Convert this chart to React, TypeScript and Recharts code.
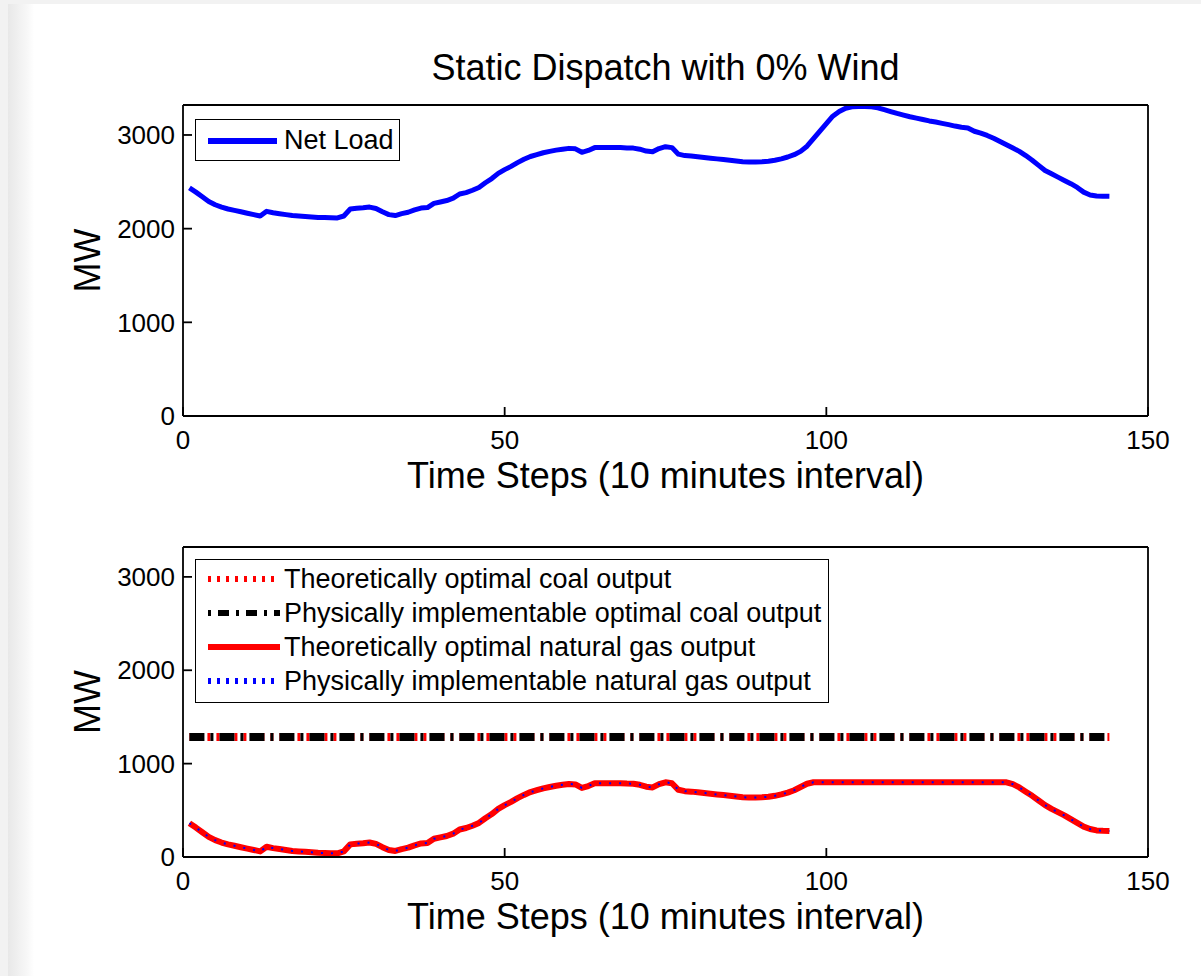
import React from 'react';
import { LineChart, Line, XAxis, YAxis } from 'recharts';

const FONT = '"Liberation Sans", Arial, Helvetica, sans-serif';

const timeSteps = Array.from({ length: 144 }, (_, i) => i + 1);

// net load, MW, one value per 10-minute step
const netLoad = [
  2436, 2390, 2340, 2290, 2255, 2230, 2210, 2195, 2180, 2165,
  2150, 2135, 2185, 2170, 2160, 2150, 2140, 2135, 2130, 2125,
  2120, 2118, 2116, 2115, 2135, 2210, 2218, 2222, 2230, 2215,
  2180, 2150, 2140, 2160, 2175, 2200, 2220, 2225, 2270, 2285,
  2300, 2325, 2370, 2385, 2410, 2440, 2490, 2535, 2590, 2630,
  2665, 2705, 2740, 2770, 2790, 2810, 2825, 2838, 2848, 2857,
  2852, 2815, 2835, 2865, 2865, 2866, 2866, 2866, 2862, 2860,
  2848, 2828, 2820, 2855, 2875, 2865, 2795, 2780, 2775, 2768,
  2760, 2752, 2745, 2738, 2730, 2722, 2715, 2712, 2712, 2715,
  2720, 2730, 2745, 2765, 2790, 2825, 2880, 2960, 3040, 3120,
  3200, 3250, 3285, 3300, 3305, 3305, 3300, 3290, 3270, 3250,
  3230, 3212, 3195, 3180, 3165, 3150, 3138, 3124, 3110, 3095,
  3082, 3075, 3040, 3020, 2995, 2965, 2930, 2895, 2860, 2825,
  2780, 2730, 2675, 2620, 2585, 2550, 2515, 2480, 2440, 2390,
  2360, 2348, 2346, 2345,
];

// natural gas output, MW (theoretical and implementable overlap)
const gasOutput = [
  361, 315, 265, 215, 180, 155, 135, 120, 105, 90,
  75, 60, 110, 95, 85, 75, 65, 60, 55, 50,
  45, 43, 41, 40, 60, 135, 143, 147, 155, 140,
  105, 75, 65, 85, 100, 125, 145, 150, 195, 210,
  225, 250, 295, 310, 335, 365, 415, 460, 515, 555,
  590, 630, 665, 695, 715, 735, 750, 763, 773, 782,
  777, 740, 760, 790, 790, 791, 791, 791, 787, 785,
  773, 753, 745, 780, 800, 790, 720, 705, 700, 693,
  685, 677, 670, 663, 655, 647, 640, 637, 637, 640,
  645, 655, 670, 690, 715, 750, 785, 800, 800, 800,
  800, 800, 800, 800, 800, 800, 800, 800, 800, 800,
  800, 800, 800, 800, 800, 800, 800, 800, 800, 800,
  800, 800, 800, 800, 800, 800, 800, 800, 780, 745,
  700, 655, 605, 555, 515, 480, 445, 405, 365, 325,
  300, 285, 280, 278,
];

const COAL_LEVEL = 1285;
const coalTheoretical = timeSteps.map(() => COAL_LEVEL);
const coalPhysical = timeSteps.map(() => COAL_LEVEL);

const xTicks = [0, 50, 100, 150];
const yTicks = [0, 1000, 2000, 3000];
const Y_MAX = 3320;

const topData = timeSteps.map((t, i) => ({ t, load: netLoad[i] }));
const bottomData = timeSteps.map((t, i) => ({
  t,
  coalT: coalTheoretical[i],
  coalP: coalPhysical[i],
  gasT: gasOutput[i],
  gasP: gasOutput[i],
}));

const lineStyle = { stroke: '#000', strokeWidth: 1.8 };
const tickFont = { fill: '#000', fontSize: 26, fontFamily: FONT };

const MwLabel = (props: any) => {
  const vb = props.viewBox || { x: 0, y: 0, height: 0 };
  const cx = 87;
  const cy = vb.y + vb.height / 2;
  return (
    <text
      x={cx}
      y={cy}
      transform={`rotate(-90 ${cx} ${cy})`}
      textAnchor="middle"
      dominantBaseline="central"
      fontSize={36}
      fontFamily={FONT}
      fill="#000"
    >
      MW
    </text>
  );
};

function axes(title?: string) {
  return [
    <XAxis
      key="xb"
      dataKey="t"
      type="number"
      domain={[0, 150]}
      ticks={xTicks}
      allowDataOverflow
      height={40}
      tickSize={-9}
      tickMargin={24}
      axisLine={lineStyle}
      tickLine={lineStyle}
      tick={tickFont}
      label={{
        value: 'Time Steps (10 minutes interval)',
        position: 'bottom',
        offset: 6,
        fontSize: 36,
        fontFamily: FONT,
        fill: '#000',
      }}
    />,
    <XAxis
      key="xt"
      xAxisId="top"
      orientation="top"
      type="number"
      domain={[0, 150]}
      ticks={xTicks}
      allowDataOverflow
      height={1}
      tickSize={-9}
      axisLine={lineStyle}
      tickLine={lineStyle}
      tick={false}
      label={
        title
          ? { value: title, position: 'top', offset: 24, fontSize: 36, fontFamily: FONT, fill: '#000' }
          : undefined
      }
    />,
    <YAxis
      key="yl"
      type="number"
      domain={[0, Y_MAX]}
      ticks={yTicks}
      allowDataOverflow
      width={80}
      tickSize={-9}
      tickMargin={17}
      axisLine={lineStyle}
      tickLine={lineStyle}
      tick={tickFont}
      label={<MwLabel />}
    />,
    <YAxis
      key="yr"
      yAxisId="r"
      orientation="right"
      type="number"
      domain={[0, Y_MAX]}
      ticks={yTicks}
      allowDataOverflow
      width={1}
      tickSize={-9}
      axisLine={lineStyle}
      tickLine={lineStyle}
      tick={false}
    />,
  ];
}

const legendBox: React.CSSProperties = {
  position: 'absolute',
  border: '1.6px solid #000',
  boxSizing: 'border-box',
  background: '#fff',
  fontFamily: FONT,
  fontSize: 27,
  color: '#000',
};

function LegendRow({ top, text, sample }: { top: number; text: string; sample: React.ReactNode }) {
  return (
    <div style={{ position: 'absolute', left: 0, top, height: 34, display: 'flex', alignItems: 'center', whiteSpace: 'nowrap' }}>
      <svg width={88} height={34} style={{ display: 'block' }}>
        {sample}
      </svg>
      <span style={{ lineHeight: '34px' }}>{text}</span>
    </div>
  );
}

export default function App() {
  return (
    <div style={{ position: 'absolute', left: 0, top: 0, width: 1201, height: 976, background: '#f2f2f2', overflow: 'hidden' }}>
      <div
        style={{
          position: 'absolute',
          left: 8,
          top: 4,
          right: 0,
          bottom: 0,
          background: 'linear-gradient(to right, #e8e8e8 0px, #f8f8f8 20px, #ffffff 26px)',
        }}
      />
      <div style={{ position: 'absolute', left: 0, top: 0 }}>
        <LineChart width={1201} height={520} data={topData} margin={{ top: 104, right: 52, bottom: 64, left: 103 }}>
          {axes('Static Dispatch with 0% Wind')}
          <Line dataKey="load" type="linear" stroke="#0000ff" strokeWidth={5} dot={false} isAnimationActive={false} strokeLinejoin="round" />
        </LineChart>
      </div>
      <div style={{ position: 'absolute', left: 0, top: 488 }}>
        <LineChart width={1201} height={488} data={bottomData} margin={{ top: 58, right: 52, bottom: 79, left: 103 }}>
          {axes()}
          <Line dataKey="coalT" type="linear" stroke="#ff0000" strokeWidth={8} strokeDasharray="3 6" dot={false} isAnimationActive={false} />
          <Line dataKey="coalP" type="linear" stroke="#000" strokeWidth={8} strokeDasharray="15 6 3 6" dot={false} isAnimationActive={false} />
          <Line dataKey="gasT" type="linear" stroke="#ff0000" strokeWidth={6} dot={false} isAnimationActive={false} strokeLinejoin="round" />
          <Line dataKey="gasP" type="linear" stroke="#0000ff" strokeWidth={2} strokeDasharray="2 8" dot={false} isAnimationActive={false} />
        </LineChart>
      </div>

      <div style={{ ...legendBox, left: 195, top: 119, width: 205, height: 42 }}>
        <LegendRow
          top={3}
          text="Net Load"
          sample={<line x1={12} x2={81} y1={18} y2={18} stroke="#0000ff" strokeWidth={6} />}
        />
      </div>

      <div style={{ ...legendBox, left: 195, top: 559, width: 634, height: 144 }}>
        <LegendRow
          top={2}
          text="Theoretically optimal coal output"
          sample={<line x1={12} x2={82} y1={17} y2={17} stroke="#ff0000" strokeWidth={6} strokeDasharray="3 6" />}
        />
        <LegendRow
          top={36}
          text="Physically implementable optimal coal output"
          sample={<line x1={12} x2={84} y1={17} y2={17} stroke="#000" strokeWidth={6} strokeDasharray="3 7 11 7" />}
        />
        <LegendRow
          top={70}
          text="Theoretically optimal natural gas output"
          sample={<line x1={12} x2={84} y1={17} y2={17} stroke="#ff0000" strokeWidth={6} />}
        />
        <LegendRow
          top={104}
          text="Physically implementable natural gas output"
          sample={<line x1={12} x2={82} y1={17} y2={17} stroke="#0000ff" strokeWidth={6} strokeDasharray="3 6" />}
        />
      </div>
    </div>
  );
}
